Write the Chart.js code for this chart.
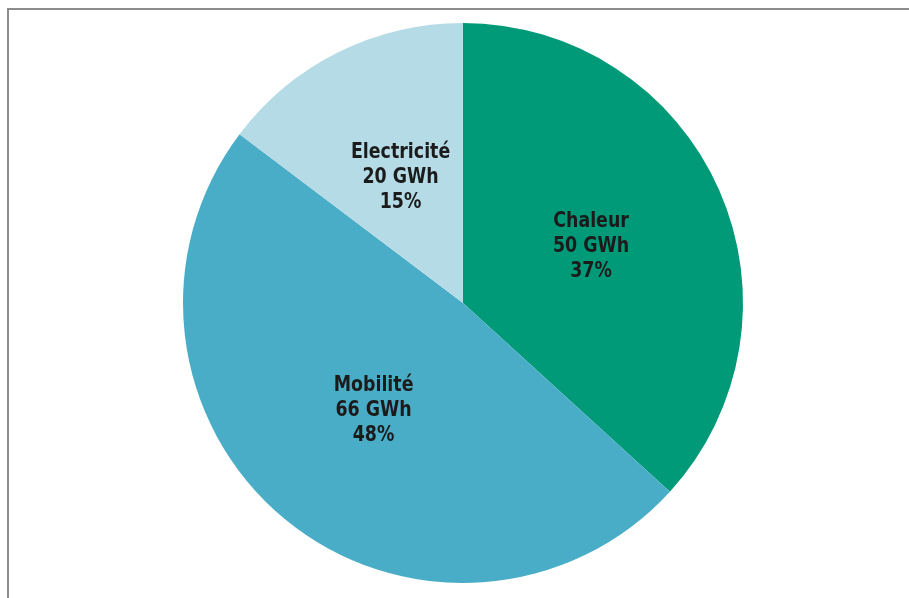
<!DOCTYPE html>
<html>
<head>
<meta charset="utf-8">
<script src="https://cdn.jsdelivr.net/npm/chart.js@4.4.1/dist/chart.umd.min.js"></script>
<style>
    html, body { margin: 0; padding: 0; background: #fff; }
    #wrap { position: relative; width: 909px; height: 598px; overflow: hidden; }
    #frame {
        position: absolute; left: 7px; top: 8px; right: -2px; bottom: -2px;
        border-left: 2px solid #8c8c8c; border-top: 2px solid #8c8c8c;
    }
    #chart { position: absolute; left: 0; top: 0; }
</style>
</head>
<body>
<div id="wrap">
    <div id="frame"></div>
    <canvas id="chart" width="909" height="598"></canvas>
</div>
<script>
    const categories = ['Chaleur', 'Mobilité', 'Electricité'];
    const energyGWh = [50, 66, 20];
    const shares = [37, 48, 15];
    const colors = ['#009a79', '#4aadc7', '#b5dce6'];

    // writes name / GWh / % in the middle of each slice (squeezed a bit, condensed look)
    const sliceLabels = {
        id: 'sliceLabels',
        afterDatasetsDraw(chart) {
            const ctx = chart.ctx;
            const meta = chart.getDatasetMeta(0);
            const squeeze = 0.88;
            meta.data.forEach((arc, i) => {
                const p = arc.getCenterPoint();
                const lines = [categories[i], energyGWh[i] + ' GWh', shares[i] + '%'];
                ctx.save();
                ctx.translate(p.x, p.y);
                ctx.scale(squeeze, 1);
                ctx.font = "bold 22px 'DejaVu Sans Condensed', 'Liberation Sans Narrow', sans-serif";
                ctx.fillStyle = '#1b1b1b';
                ctx.textAlign = 'center';
                ctx.textBaseline = 'middle';
                lines.forEach((txt, j) => {
                    ctx.fillText(txt, 0, (j - 1) * 25);
                });
                ctx.restore();
            });
        }
    };

    new Chart(document.getElementById('chart'), {
        type: 'pie',
        data: {
            labels: categories,
            datasets: [{
                data: energyGWh,
                backgroundColor: colors,
                borderWidth: 0
            }]
        },
        options: {
            responsive: false,
            animation: false,
            radius: 280,
            layout: { padding: { left: 17, right: 0, top: 8, bottom: 0 } },
            plugins: {
                legend: { display: false },
                tooltip: { enabled: false }
            }
        },
        plugins: [sliceLabels]
    });
</script>
</body>
</html>
